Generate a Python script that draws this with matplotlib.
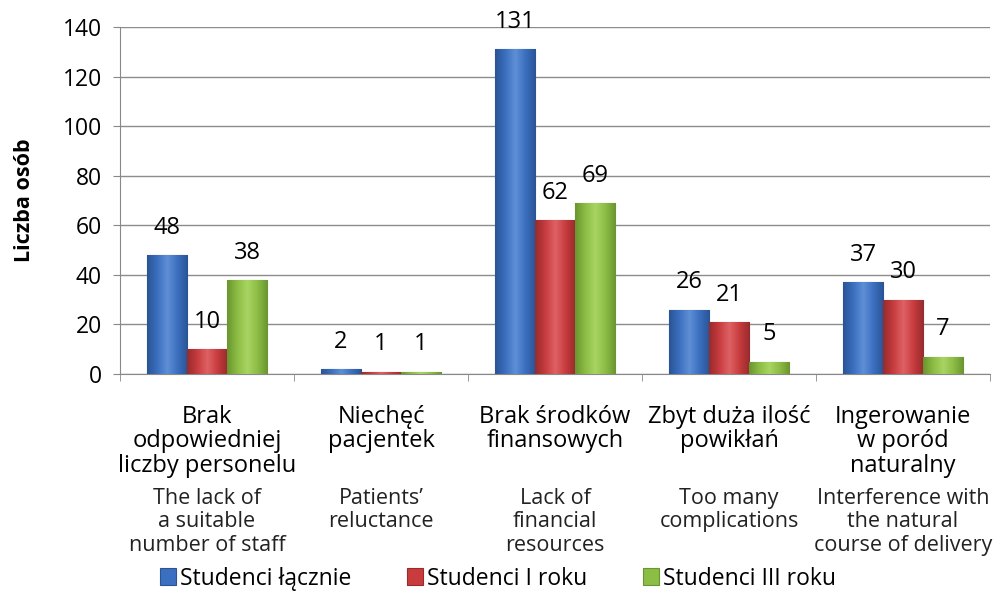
import numpy as np
import matplotlib.pyplot as plt
from matplotlib.colors import LinearSegmentedColormap

# data
categories_pl = ["Brak\nodpowiedniej\nliczby personelu", "Niechęć\npacjentek",
                 "Brak środków\nfinansowych", "Zbyt duża ilość\npowikłań",
                 "Ingerowanie\nw poród\nnaturalny"]
categories_en = ["The lack of\na suitable\nnumber of staff", "Patients’\nreluctance",
                 "Lack of\nfinancial\nresources", "Too many\ncomplications",
                 "Interference with\nthe natural\ncourse of delivery"]
series_names = ["Studenci łącznie", "Studenci I roku", "Studenci III roku"]
lacznie = [48, 2, 131, 26, 37]
rok1 = [10, 1, 62, 21, 30]
rok3 = [38, 1, 69, 5, 7]

colors = ["#3b6fbf", "#c83c3e", "#8cbd44"]
dark = ["#2a5496", "#972b2d", "#6a9530"]
light = ["#5f8fd6", "#de6265", "#a9d563"]

plt.rcParams["font.family"] = ["Open Sans", "DejaVu Sans"]

fig = plt.figure(figsize=(9.96, 5.98), dpi=100)
ax = fig.add_axes([0.1205, 0.3746, 0.8735, 0.5802])

x = np.arange(len(categories_pl))
w = 0.23
for k, vals in enumerate([lacznie, rok1, rok3]):
    bars = ax.bar(x + (k - 1) * w, vals, w, color=colors[k], edgecolor=dark[k],
                  linewidth=0.8, zorder=3, label=series_names[k])
    cmap = LinearSegmentedColormap.from_list("g", [dark[k], colors[k], light[k], colors[k], dark[k]])
    grad = np.linspace(0, 1, 64).reshape(1, -1)
    for b, v in zip(bars, vals):
        x0, y0 = b.get_x(), b.get_y()
        im = ax.imshow(grad, cmap=cmap, aspect="auto", zorder=3.5,
                       extent=(x0, x0 + b.get_width(), y0, y0 + b.get_height()))
        im.set_clip_path(b)
        ax.annotate(str(v), (b.get_x() + b.get_width() / 2, v), xytext=(0, 11),
                    textcoords="offset points", ha="center", va="bottom",
                    fontsize=17, annotation_clip=False)

ax.set_xlim(-0.5, 4.5)
ax.set_ylim(0, 140)
ax.set_yticks(range(0, 141, 20))
ax.tick_params(axis="y", labelsize=16.5, length=5, color="#888888", pad=8)
ax.set_xticks([])
ax.set_xticks(np.arange(-0.5, 5, 1), minor=True)
ax.tick_params(axis="x", which="minor", length=5, color="#888888")
ax.yaxis.grid(True, color="#8c8c8c", linewidth=1.0, zorder=0)
ax.set_axisbelow(True)
for s in ["top", "right"]:
    ax.spines[s].set_visible(False)
ax.spines["left"].set_color("#888888")
ax.spines["bottom"].set_color("#888888")

ax.set_ylabel("Liczba osób", fontsize=15.5, fontweight="bold")
ax.yaxis.set_label_coords(-0.098, 0.5)

tr = ax.get_xaxis_transform()
for i in range(len(categories_pl)):
    ax.text(i, -0.088, categories_pl[i], transform=tr, ha="center", va="top",
            fontsize=17, linespacing=1.05)
    ax.text(i, -0.328, categories_en[i], transform=tr, ha="center", va="top",
            fontsize=15.5, linespacing=1.15, color="#222222")

fig.legend(loc="lower center", bbox_to_anchor=(0.5, -0.022), ncol=3, frameon=False,
           fontsize=16.5, handlelength=0.7, handleheight=0.7, handletextpad=0.2,
           columnspacing=2.4)

fig.savefig("out.png", dpi=100)
